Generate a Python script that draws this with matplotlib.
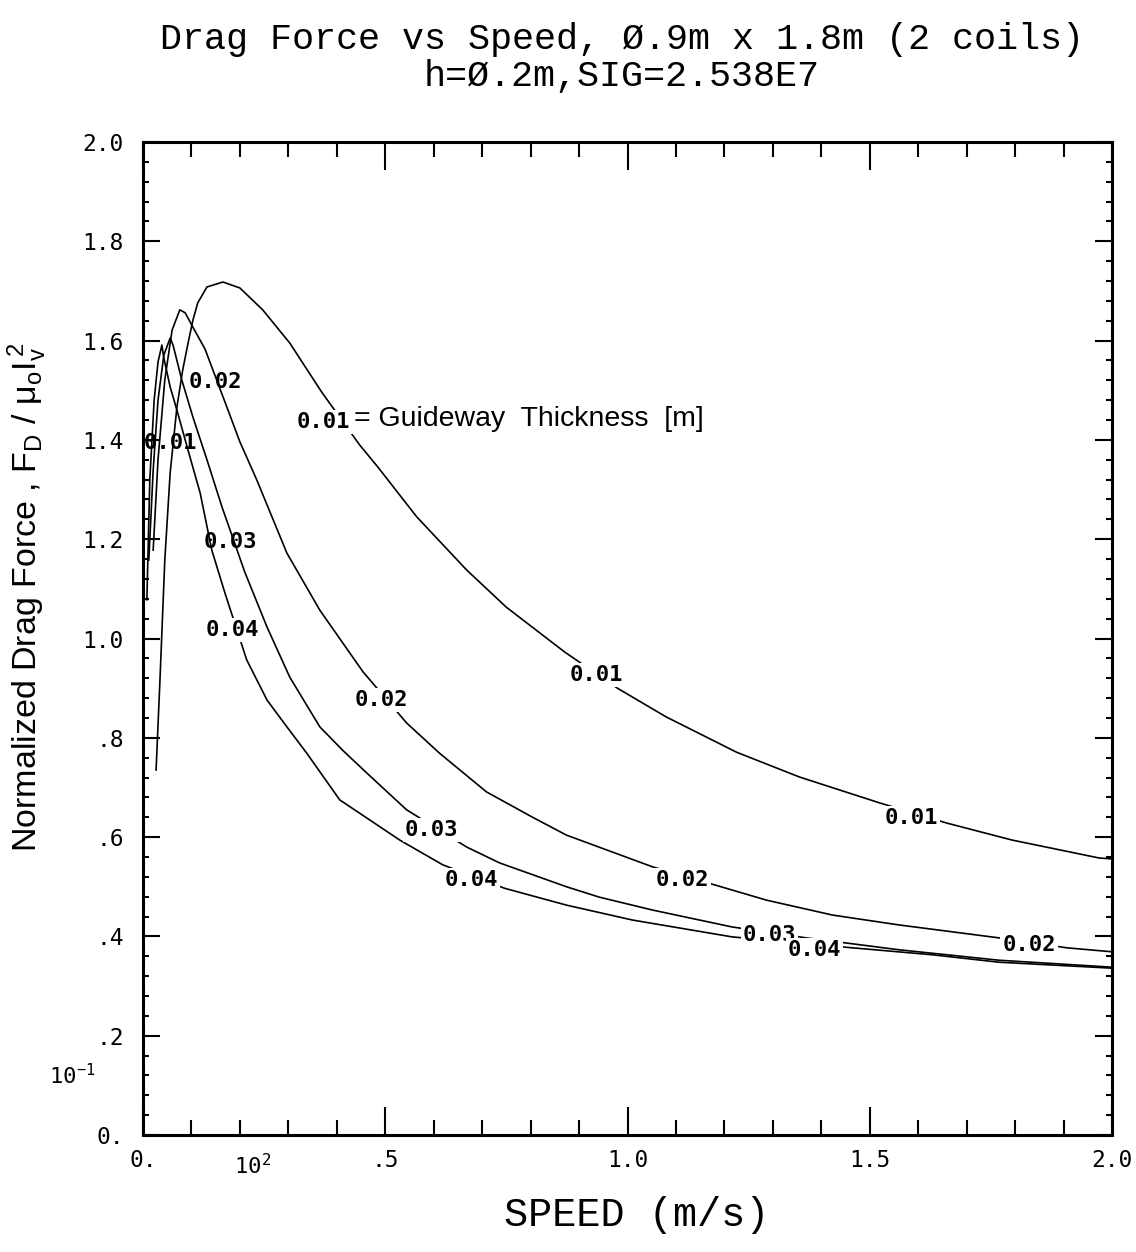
import matplotlib
matplotlib.use("Agg")
import matplotlib.pyplot as plt
from matplotlib.ticker import MultipleLocator, FixedLocator

# ---------------- data ----------------
thickness = ["0.01", "0.02", "0.03", "0.04"]

speed_001 = [0.027, 0.035, 0.045, 0.056, 0.070, 0.082, 0.093, 0.103, 0.113, 0.132,
             0.165, 0.200, 0.247, 0.303, 0.369, 0.447, 0.485, 0.565, 0.668, 0.750,
             0.870, 0.979, 1.080, 1.225, 1.355, 1.520, 1.660, 1.794, 1.973, 2.000]
drag_001 = [0.735, 0.916, 1.158, 1.333, 1.466, 1.541, 1.595, 1.641, 1.676, 1.708,
            1.718, 1.706, 1.662, 1.595, 1.496, 1.390, 1.345, 1.245, 1.138, 1.063,
            0.973, 0.900, 0.842, 0.771, 0.721, 0.669, 0.628, 0.594, 0.558, 0.556]

speed_002 = [0.021, 0.031, 0.045, 0.060, 0.076, 0.087, 0.103, 0.128, 0.177, 0.200,
             0.235, 0.297, 0.365, 0.454, 0.544, 0.612, 0.709, 0.804, 0.874, 1.052,
             1.186, 1.287, 1.423, 1.561, 1.767, 1.907, 2.000]
drag_002 = [1.178, 1.360, 1.521, 1.621, 1.662, 1.656, 1.627, 1.583, 1.456, 1.396,
            1.319, 1.172, 1.057, 0.933, 0.830, 0.769, 0.691, 0.640, 0.604, 0.540,
            0.502, 0.473, 0.443, 0.423, 0.397, 0.377, 0.369]

speed_003 = [0.012, 0.021, 0.031, 0.043, 0.056, 0.062, 0.080, 0.103, 0.132, 0.163,
             0.210, 0.256, 0.303, 0.365, 0.412, 0.462, 0.544, 0.668, 0.736, 0.874,
             0.942, 1.052, 1.216, 1.369, 1.561, 1.767, 2.000]
drag_003 = [1.158, 1.339, 1.480, 1.571, 1.605, 1.591, 1.521, 1.446, 1.360, 1.265,
            1.134, 1.023, 0.922, 0.822, 0.775, 0.729, 0.655, 0.580, 0.548, 0.500,
            0.479, 0.453, 0.419, 0.397, 0.373, 0.352, 0.338]

speed_004 = [0.008, 0.014, 0.023, 0.031, 0.039, 0.043, 0.056, 0.070, 0.091, 0.118,
             0.142, 0.169, 0.214, 0.256, 0.297, 0.338, 0.406, 0.530, 0.619, 0.746,
             0.874, 1.010, 1.216, 1.464, 1.629, 1.767, 2.000]
drag_004 = [1.078, 1.319, 1.480, 1.557, 1.591, 1.565, 1.507, 1.460, 1.386, 1.293,
            1.178, 1.092, 0.957, 0.876, 0.822, 0.769, 0.675, 0.594, 0.544, 0.497,
            0.463, 0.433, 0.399, 0.377, 0.363, 0.348, 0.336]

x_tick_values = [0.0, 0.5, 1.0, 1.5, 2.0]
x_tick_labels = ["0.", ".5", "1.0", "1.5", "2.0"]
y_tick_values = [0.0, 0.2, 0.4, 0.6, 0.8, 1.0, 1.2, 1.4, 1.6, 1.8, 2.0]
y_tick_labels = ["0.", ".2", ".4", ".6", ".8", "1.0", "1.2", "1.4", "1.6", "1.8", "2.0"]

# inline curve labels (text, x, y)
label_text = ["0.02", "0.01", "0.03", "0.04",
              "0.02", "0.01", "0.03", "0.04",
              "0.02", "0.01", "0.03", "0.04", "0.02"]
label_x = [0.150, 0.056, 0.181, 0.184,
           0.493, 0.936, 0.596, 0.678,
           1.113, 1.586, 1.293, 1.386, 1.829]
label_y = [1.517, 1.394, 1.194, 1.017,
           0.876, 0.926, 0.614, 0.514,
           0.514, 0.638, 0.403, 0.373, 0.383]
label_boxed = [False, False, False, True,
               True, True, True, True,
               True, True, True, True, True]

title_text = "Drag Force vs Speed, \u00d8.9m x 1.8m (2 coils)\nh=\u00d8.2m,SIG=2.538E7"
xlabel_text = "SPEED (m/s)"
ylabel_text = (r"Normalized Drag Force , F$_\mathregular{D}$ / "
               r"$\mathregular{\mu_o I_v^{\,2}}$")
legend_note = "= Guideway  Thickness  [m]"

# ---------------- figure ----------------
W, H = 1136, 1252
fig = plt.figure(figsize=(W / 100, H / 100), dpi=100)
ax = fig.add_axes([143 / W, 1 - 1135 / H, (1112 - 143) / W, (1135 - 142) / H])

mono = "DejaVu Sans Mono"
thin = "Liberation Mono"
sans = "Liberation Sans"

for xs, ys in [(speed_001, drag_001), (speed_002, drag_002),
               (speed_003, drag_003), (speed_004, drag_004)]:
    ax.plot(xs, ys, color="black", lw=1.2, zorder=2)

for t, x, y, boxed in zip(label_text, label_x, label_y, label_boxed):
    kw = dict(ha="center", va="center", family=mono, weight="bold",
              fontsize=16, color="black", zorder=4)
    if boxed:
        kw["bbox"] = dict(fc="white", ec="none", pad=1.5)
    ax.text(x, y, t, **kw)

# guideway thickness note
ax.text(0.373, 1.436, "0.01", ha="center", va="center", family=mono,
        weight="bold", fontsize=16, zorder=4,
        bbox=dict(fc="white", ec="none", pad=1.5))
ax.text(0.436, 1.442, legend_note, ha="left", va="center", family=sans,
        fontsize=20.5, zorder=4, bbox=dict(fc="white", ec="none", pad=1.5))

ax.set_xlim(0, 2.0)
ax.set_ylim(0, 2.0)

ax.xaxis.set_major_locator(FixedLocator(x_tick_values))
ax.set_xticklabels(x_tick_labels)
ax.xaxis.set_minor_locator(MultipleLocator(0.1))
ax.yaxis.set_major_locator(FixedLocator(y_tick_values))
ax.set_yticklabels(y_tick_labels)
ax.yaxis.set_minor_locator(MultipleLocator(0.04))

ax.tick_params(which="both", direction="in", top=True, right=True, color="black")
ax.tick_params(axis="x", which="major", length=20, width=1.5, pad=10)
ax.tick_params(axis="x", which="minor", length=11, width=1.5)
ax.tick_params(axis="y", which="major", length=12, width=1.5, pad=14)
ax.tick_params(axis="y", which="minor", length=4, width=1.5)
for lab in ax.get_xticklabels() + ax.get_yticklabels():
    lab.set_family(mono)
    lab.set_fontsize(16.5)

for side, sp in ax.spines.items():
    sp.set_linewidth(2.2)
    sp.set_color("black")

# stray exponent labels from the original plotter output
fig.text(72 / W, 1 - 1076 / H, r"$\mathregular{10^{-1}}$", family=mono,
         fontsize=16, ha="center", va="center")
fig.text(253 / W, 1 - 1166 / H, r"$\mathregular{10^{2}}$", family=mono,
         fontsize=16, ha="center", va="center")

fig.text(622 / W, 1 - 58 / H, title_text, family=thin, fontsize=26.5,
         ha="center", va="center", linespacing=1.08)
fig.text(637 / W, 1 - 1215 / H, xlabel_text, family=thin, fontsize=29,
         ha="center", va="center")
fig.text(27 / W, 1 - 597 / H, ylabel_text, family=sans, fontsize=24.5,
         rotation=90, ha="center", va="center")

fig.savefig("out.png", dpi=100, facecolor="white")
